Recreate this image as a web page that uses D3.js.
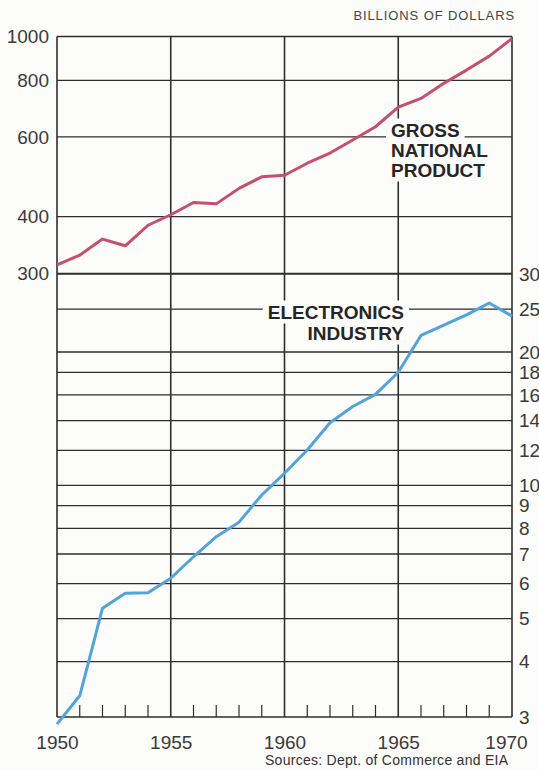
<!DOCTYPE html>
<html>
<head>
<meta charset="utf-8">
<script src="https://cdn.jsdelivr.net/npm/d3@7"></script>
<style>
  html, body { margin: 0; padding: 0; background: #fcfcfa; }
  svg { display: block; font-family: "Liberation Sans", Arial, Helvetica, sans-serif; }
</style>
</head>
<body>
<svg id="chart" width="539" height="770"></svg>
<script>
// ---- data ----
const years = [1950, 1951, 1952, 1953, 1954, 1955, 1956, 1957, 1958, 1959, 1960,
               1961, 1962, 1963, 1964, 1965, 1966, 1967, 1968, 1969, 1970];
const gnp = [313, 329, 357, 345, 383, 404, 430, 427, 462, 490, 494,
             525, 553, 591, 632, 698, 730, 788, 843, 905, 990];
const electronics = [2.89, 3.35, 5.28, 5.71, 5.72, 6.17, 6.90, 7.66, 8.26, 9.51, 10.65,
                     12.02, 13.85, 15.07, 16.05, 18.0, 21.8, 23.0, 24.25, 25.8, 24.1];
const leftTicks = [1000, 800, 600, 400, 300];
const rightTicks = [30, 25, 20, 18, 16, 14, 12, 10, 9, 8, 7, 6, 5, 4, 3];
const majorYears = [1950, 1955, 1960, 1965, 1970];
const unitLabel = "BILLIONS OF DOLLARS";
const sourceLabel = "Sources: Dept. of Commerce and EIA";
const gnpLabel = ["GROSS", "NATIONAL", "PRODUCT"];
const elecLabel = ["ELECTRONICS", "INDUSTRY"];

// ---- layout ----
const svg = d3.select("#chart");
const pLeft = 57, pRight = 512, pTop = 36.5, pBottom = 717;
const x = d3.scaleLinear().domain([1950, 1970]).range([pLeft, pRight]);
const yL = d3.scaleLog().domain([300, 1000]).range([273.3, pTop]);
const yR = d3.scaleLog().domain([3, 30]).range([pBottom, 274]);

const ink = "#2e2e2e";
const grid = svg.append("g").attr("stroke", ink).attr("fill", "none");

// horizontal grid lines
grid.selectAll("line.hl").data(leftTicks).join("line").attr("class", "hl")
  .attr("x1", pLeft).attr("x2", pRight)
  .attr("y1", d => yL(d)).attr("y2", d => yL(d))
  .attr("stroke-width", 1.3);
grid.selectAll("line.hr").data(rightTicks).join("line").attr("class", "hr")
  .attr("x1", pLeft).attr("x2", pRight)
  .attr("y1", d => yR(d)).attr("y2", d => yR(d))
  .attr("stroke-width", 1.3);

// vertical grid lines and frame
grid.selectAll("line.v").data(majorYears).join("line").attr("class", "v")
  .attr("x1", d => x(d)).attr("x2", d => x(d))
  .attr("y1", pTop).attr("y2", pBottom)
  .attr("stroke-width", 1.6);

// minor year ticks
grid.selectAll("line.m").data(years.filter(y => !majorYears.includes(y))).join("line").attr("class", "m")
  .attr("x1", d => x(d)).attr("x2", d => x(d))
  .attr("y1", pBottom - 12).attr("y2", pBottom)
  .attr("stroke-width", 1.2);

// ---- label halos + labels ----
function blockLabel(lines, x0, y0, lh, anchor) {
  const g = svg.append("g");
  lines.forEach((t, i) => {
    const txt = g.append("text")
      .attr("x", x0).attr("y", y0 + i * lh)
      .attr("text-anchor", anchor)
      .attr("font-size", 19).attr("font-weight", "bold")
      .attr("fill", "#262626")
      .text(t);
    const b = txt.node().getBBox();
    g.insert("rect", "text")
      .attr("x", b.x - 5).attr("y", b.y - 1)
      .attr("width", b.width + 10).attr("height", b.height + 2)
      .attr("fill", "#fcfcfa");
  });
}
blockLabel(gnpLabel, 391, 136.5, 20, "start");
blockLabel(elecLabel, 404, 318.5, 21, "end");

// ---- lines ----
const lineG = d3.line().x((d, i) => x(years[i])).y(d => yL(d));
const lineE = d3.line().x((d, i) => x(years[i])).y(d => yR(d));
svg.append("path").datum(gnp).attr("d", lineG)
  .attr("fill", "none").attr("stroke", "#c4506f").attr("stroke-width", 3)
  .attr("stroke-linejoin", "round");
svg.append("path").datum(electronics).attr("d", lineE)
  .attr("fill", "none").attr("stroke", "#52a3da").attr("stroke-width", 3)
  .attr("stroke-linejoin", "round");

// ---- axes (labels only) ----
const tickFont = 19, tickCol = "#3a3a3a";
const axL = svg.append("g").attr("transform", `translate(${pLeft - 8},0)`)
  .call(d3.axisLeft(yL).tickValues(leftTicks).tickFormat(d3.format("d")).tickSize(0));
const axR = svg.append("g").attr("transform", `translate(${pRight + 7},0)`)
  .call(d3.axisRight(yR).tickValues(rightTicks).tickFormat(d3.format("d")).tickSize(0));
const axB = svg.append("g").attr("transform", `translate(0,${pBottom + 15})`)
  .call(d3.axisBottom(x).tickValues(majorYears).tickFormat(d3.format("d")).tickSize(0));
[axL, axR, axB].forEach(a => {
  a.select(".domain").remove();
  a.attr("font-size", tickFont);
  a.selectAll("text").attr("font-size", tickFont).attr("fill", tickCol)
    .attr("font-family", "Liberation Sans, Arial, sans-serif");
});
axL.selectAll("text").attr("x", 0).attr("dx", 0);
axR.selectAll("text").attr("x", 0).attr("dx", 0);
axB.selectAll("text").attr("dy", "0.71em");
axB.selectAll(".tick").filter(d => d === 1970).select("text").attr("x", -6);

// ---- titles ----
svg.append("text").attr("x", 515).attr("y", 20).attr("text-anchor", "end")
  .attr("font-size", 13).attr("letter-spacing", 0.9).attr("fill", "#444")
  .text(unitLabel);
svg.append("text").attr("x", 265).attr("y", 765)
  .attr("font-size", 14).attr("fill", "#333")
  .attr("textLength", 243).attr("lengthAdjust", "spacing")
  .text(sourceLabel);
</script>
</body>
</html>
